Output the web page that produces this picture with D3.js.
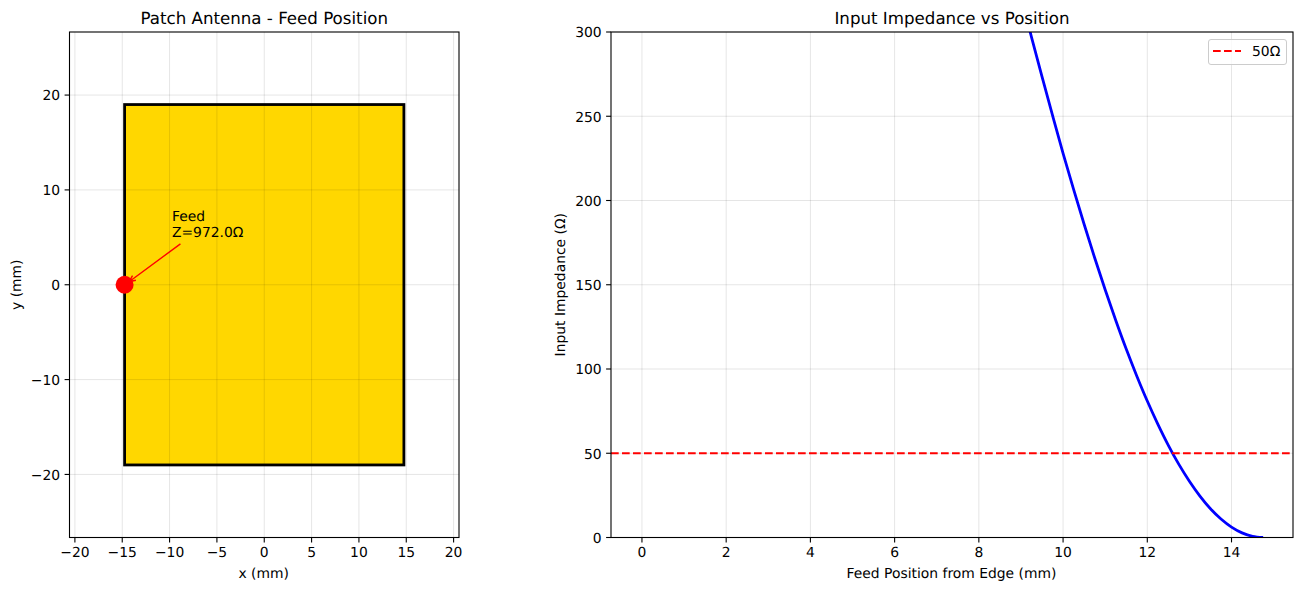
<!DOCTYPE html>
<html lang='en'>
  <head>
    <meta charset='utf-8'>
    <title>Patch Antenna - Feed Position</title>
    <script src="https://d3js.org/d3.v7.min.js" charset='utf-8'></script>
    <style type="text/css">
      html, body { margin: 0; padding: 0; background: #fff; }
      svg { display: block; text-rendering: geometricPrecision; }
      text { font-family: "DejaVu Sans", sans-serif; fill: #000; }
      .grid line { stroke: #000; stroke-opacity: 0.1; stroke-width: 1px; }
    </style>
  </head>
  <body>
    <script type="text/javascript">
      // left panel
      var patchX = [-14.75, 14.75];
      var patchY = [-19, 19];
      var feedX = [-14.75];
      var feedY = [0];
      var feedLabel = ['Feed', 'Z=972.0Ω'];
      var feedLabelAt = [-9.75, 5];
      var leftXLim = [-20.57, 20.57];
      var leftYLim = [-26.65, 26.65];
      var leftXTicks = [-20, -15, -10, -5, 0, 5, 10, 15, 20];
      var leftYTicks = [-20, -10, 0, 10, 20];

      // right panel
      var position = [9, 9.25, 9.5, 9.75, 10, 10.25, 10.5, 10.75, 11, 11.25, 11.5, 11.75, 12,
        12.25, 12.5, 12.75, 13, 13.25, 13.5, 13.75, 14, 14.25, 14.5, 14.75];
      var impedance = [321, 297, 273.5, 250.5, 228, 206.6, 185.9, 166, 147, 128.9, 111.8, 95.9, 81,
        67.3, 54.7, 43.4, 33.4, 24.6, 17.1, 11, 6.2, 2.75, 0.7, 0];
      var reference = [50];
      var referenceName = '50Ω';
      var rightXLim = [-0.735, 15.46];
      var rightYLim = [0, 300];
      var rightXTicks = [0, 2, 4, 6, 8, 10, 12, 14];
      var rightYTicks = [0, 50, 100, 150, 200, 250, 300];

      var width = 1302, height = 590, tickFont = 13.89;
      var svg = d3.select('body').append('svg')
        .attr('width', width)
        .attr('height', height);

      // frame, grid, axes and labels shared by both panels
      function panel(box, xLim, yLim, xTicks, yTicks, title, xLabel, yLabel) {
        var x = d3.scaleLinear().domain(xLim).range([box.left, box.right]);
        var y = d3.scaleLinear().domain(yLim).range([box.bottom, box.top]);
        var g = svg.append('g');
        var under = g.append('g');
        var grid = g.append('g').attr('class', 'grid');
        grid.selectAll('.gx').data(xTicks).enter().append('line')
          .attr('x1', x).attr('x2', x).attr('y1', box.top).attr('y2', box.bottom);
        grid.selectAll('.gy').data(yTicks).enter().append('line')
          .attr('y1', y).attr('y2', y).attr('x1', box.left).attr('x2', box.right);
        var marks = g.append('g');
        var xAxis = g.append('g').attr('transform', 'translate(0,' + box.bottom + ')')
          .call(d3.axisBottom(x).tickValues(xTicks).offset(0).tickSizeOuter(0).tickSize(4.9).tickPadding(4.5));
        var yAxis = g.append('g').attr('transform', 'translate(' + box.left + ',0)')
          .call(d3.axisLeft(y).tickValues(yTicks).offset(0).tickSizeOuter(0).tickSize(4.9).tickPadding(4.5));
        [xAxis, yAxis].forEach(function(a) {
          a.selectAll('.domain').remove();
          a.selectAll('text').style('font-family', '"DejaVu Sans"').style('font-size', tickFont + 'px');
          a.selectAll('line').attr('stroke', '#000').attr('stroke-width', 1.1);
        });
        yAxis.selectAll('text').attr('dy', '0.39em');
        g.append('rect')
          .attr('x', box.left).attr('y', box.top)
          .attr('width', box.right - box.left).attr('height', box.bottom - box.top)
          .attr('fill', 'none').attr('stroke', '#000').attr('stroke-width', 1.1);
        g.append('text')
          .attr('x', (box.left + box.right) / 2).attr('y', box.top - 8)
          .attr('text-anchor', 'middle').style('font-size', '16.67px').text(title);
        g.append('text')
          .attr('x', (box.left + box.right) / 2 - 0.5).attr('y', box.bottom + 40)
          .attr('text-anchor', 'middle').style('font-size', tickFont + 'px').text(xLabel);
        g.append('text')
          .attr('transform', 'translate(' + box.labelX + ',' + (box.top + box.bottom) / 2 + ') rotate(-90)')
          .attr('text-anchor', 'middle').style('font-size', tickFont + 'px').text(yLabel);
        return { x: x, y: y, under: under, marks: marks, g: g };
      }

      var left = panel({ left: 69.5, right: 459, top: 32, bottom: 537.5, labelX: 21 },
        leftXLim, leftYLim, leftXTicks, leftYTicks,
        'Patch Antenna - Feed Position', 'x (mm)', 'y (mm)');

      // the patch sits under the grid, its outline goes with it
      left.under.append('rect')
        .attr('x', left.x(patchX[0])).attr('y', left.y(patchY[1]))
        .attr('width', left.x(patchX[1]) - left.x(patchX[0]))
        .attr('height', left.y(patchY[0]) - left.y(patchY[1]))
        .attr('fill', '#FFD700').attr('stroke', '#000').attr('stroke-width', 2.8);

      left.marks.selectAll('circle').data(feedX).enter().append('circle')
        .attr('cx', function(d) { return left.x(d); })
        .attr('cy', function(d, i) { return left.y(feedY[i]); })
        .attr('r', 9).attr('fill', '#FF0000');

      // annotation
      var labelX = left.x(feedLabelAt[0]), labelY = left.y(feedLabelAt[1]);
      var label = left.marks.append('text').style('font-size', tickFont + 'px');
      label.selectAll('tspan').data(feedLabel).enter().append('tspan')
        .attr('x', labelX)
        .attr('y', function(d, i) { return labelY - (feedLabel.length - 1 - i) * 16; })
        .text(function(d) { return d; });
      var tipX = left.x(feedX[0]) + 4.5, tipY = left.y(feedY[0]) - 3;
      var startX = labelX + 8.5, startY = labelY + 6.5;
      var angle = Math.atan2(startY - tipY, startX - tipX);
      var head = 7;
      var arrow = d3.path();
      arrow.moveTo(startX, startY);
      arrow.lineTo(tipX, tipY);
      arrow.moveTo(tipX + head * Math.cos(angle + 0.42), tipY + head * Math.sin(angle + 0.42));
      arrow.lineTo(tipX, tipY);
      arrow.lineTo(tipX + head * Math.cos(angle - 0.42), tipY + head * Math.sin(angle - 0.42));
      left.marks.append('path').attr('d', arrow.toString())
        .attr('fill', 'none').attr('stroke', '#FF0000').attr('stroke-width', 1.4);

      var right = panel({ left: 611, right: 1293, top: 32, bottom: 537.5, labelX: 565 },
        rightXLim, rightYLim, rightXTicks, rightYTicks,
        'Input Impedance vs Position', 'Feed Position from Edge (mm)', 'Input Impedance (Ω)');

      svg.append('clipPath').attr('id', 'rightClip').append('rect')
        .attr('x', 611).attr('y', 32).attr('width', 682).attr('height', 505.5);

      var line = d3.line()
        .x(function(d, i) { return right.x(position[i]); })
        .y(function(d) { return right.y(d); })
        .curve(d3.curveCatmullRom);
      right.marks.append('path').datum(impedance)
        .attr('clip-path', 'url(#rightClip)')
        .attr('d', line)
        .attr('fill', 'none').attr('stroke', '#0000FF').attr('stroke-width', 2.78);

      right.marks.selectAll('.ref').data(reference).enter().append('line')
        .attr('x1', 611).attr('x2', 1293)
        .attr('y1', function(d) { return right.y(d); })
        .attr('y2', function(d) { return right.y(d); })
        .attr('stroke', '#FF0000').attr('stroke-width', 2.08).attr('stroke-dasharray', '7.7,3.3');

      // legend
      var legend = svg.append('g');
      legend.append('rect')
        .attr('x', 1208.5).attr('y', 39.5).attr('width', 78).attr('height', 25).attr('rx', 2.5)
        .attr('fill', '#fff').attr('fill-opacity', 0.8).attr('stroke', '#ccc').attr('stroke-width', 1);
      legend.append('line')
        .attr('x1', 1213).attr('x2', 1241).attr('y1', 51).attr('y2', 51)
        .attr('stroke', '#FF0000').attr('stroke-width', 2.08).attr('stroke-dasharray', '7.7,3.3');
      legend.append('text')
        .attr('x', 1252).attr('y', 56)
        .style('font-size', tickFont + 'px').text(referenceName);
    </script>
  </body>
</html>
